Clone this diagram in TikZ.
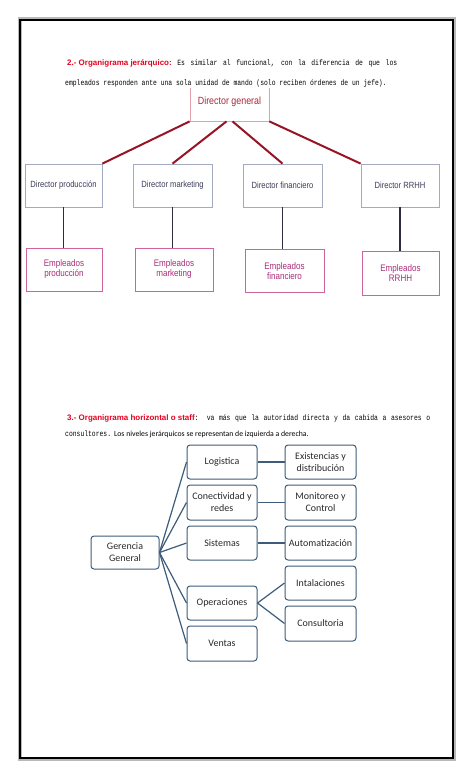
\documentclass[tikz,border=0pt]{standalone}
\usepackage{fontspec}
\setmainfont{Carlito}
\newfontfamily\monofont[FakeStretch=0.8]{Liberation Mono}
\newfontfamily\headfont{Liberation Sans}
\newfontfamily\chartfont[FakeStretch=0.85]{Liberation Sans}
\definecolor{headred}{RGB}{230, 0, 30}
\definecolor{dirgray}{RGB}{165, 170, 192}
\definecolor{dirtext}{RGB}{60, 60, 90}
\definecolor{dgpink}{RGB}{228, 160, 170}
\definecolor{dgtext}{RGB}{165, 40, 60}
\definecolor{linered}{RGB}{150, 20, 35}
\definecolor{emppink}{RGB}{205, 100, 155}
\definecolor{emptext}{RGB}{170, 45, 120}
\definecolor{navyline}{RGB}{45, 45, 65}
\definecolor{staffblue}{RGB}{60, 92, 122}
\definecolor{stafftext}{RGB}{40, 40, 40}
\usetikzlibrary{positioning}
\tikzset{
  dirbox/.style={draw=dirgray, line width=0.8bp, minimum width=78bp, minimum height=43bp, inner sep=1bp, align=center, text=dirtext, font=\chartfont\fontsize{9}{10.5}\selectfont},
  empbox/.style={draw=emppink, line width=0.8bp, minimum width=77bp, minimum height=43bp, inner sep=1bp, align=center, text=emptext, font=\chartfont\fontsize{9.5}{10}\selectfont},
  unitbox/.style={draw=staffblue, line width=1bp, rounded corners=3bp, minimum width=70bp, minimum height=34bp, inner sep=1bp, align=center, text=stafftext, font=\fontsize{10}{12}\selectfont},
  redlink/.style={draw=linered, line width=2bp},
  navylink/.style={draw=navyline, line width=1.5bp},
  stafflink/.style={draw=staffblue, line width=1.2bp}
}

\begin{document}
\begin{tikzpicture}[x=1bp, y=-1bp]
  \useasboundingbox (0,0) rectangle (474,780);
  \draw[gray!55, line width=4bp] (19.5,19.5) rectangle (453.5,758.5);
  \draw[black, line width=2.2bp] (20,20) rectangle (453,758);

  \node[draw=dgpink, line width=0.8bp, minimum width=79bp, minimum height=38bp, inner sep=1bp, text=dgtext, font=\chartfont\fontsize{10.5}{12}\selectfont] (dg) at (229.5,102) {Director general};

  \node[anchor=base west, inner sep=0] (intro2a) at (67,66) {\makebox[330bp][s]{\mbox{\headfont\bfseries\fontsize{8}{9}\selectfont\color{headred}2.- Organigrama jer\'arquico:}\spaceskip=2.4bp plus 6bp\relax{} \monofont\fontsize{8}{9}\selectfont Es similar al funcional, con la diferencia de que los}};
  \node[anchor=base west, inner sep=0, fill=white, inner ysep=1.5bp] (intro2b) at (65,85) {\monofont\fontsize{8}{9}\selectfont empleados responden ante una sola unidad de mando (solo reciben \'ordenes de un jefe).};

  \node[dirbox, minimum width=77bp] (prod) at (63.5,185.5) {Director producci\'on};
  \node[dirbox, minimum width=79bp] (mkt) at (172.5,185.5) {Director marketing};
  \node[dirbox, minimum width=79bp] (fin) at (282.5,185.5) {Director financiero};
  \node[dirbox] (rrhh) at (400,185.5) {Director RRHH};

  \node[empbox, minimum width=76bp] (eprod) at (64,269.5) {Empleados\\producci\'on};
  \node[empbox, minimum width=78bp] (emkt) at (174,269.5) {Empleados\\marketing};
  \node[empbox, minimum width=79bp] (efin) at (284.5,271) {Empleados\\financiero};
  \node[empbox, minimum height=44bp] (errhh) at (400.5,273) {Empleados\\RRHH};

  \draw[redlink] (dg.south west) -- (prod.north east);
  \draw[redlink] ([xshift=-3bp]dg.south) -- (mkt.north);
  \draw[redlink] ([xshift=3bp]dg.south) -- (fin.north);
  \draw[redlink] (dg.south east) -- (rrhh.north west);

  \draw[navylink] (prod.south) -- (prod.south |- eprod.north);
  \draw[navylink] (mkt.south) -- (mkt.south |- emkt.north);
  \draw[navylink] (fin.south) -- (fin.south |- efin.north);
  \draw[navylink] (rrhh.south) -- (rrhh.south |- errhh.north);

  \node[anchor=base west, inner sep=0] (intro3a) at (67,420) {\makebox[363bp][s]{\mbox{\headfont\bfseries\fontsize{8}{9}\selectfont\color{headred}3.- Organigrama horizontal o staff}\spaceskip=2.4bp plus 6bp\relax\monofont\fontsize{8}{9}\selectfont: va m\'as que la autoridad directa y da cabida a asesores o}};
  \node[anchor=base west, inner sep=0] (intro3b) at (65,436) {{\monofont\fontsize{8}{9}\selectfont consultores.} \fontsize{7.8}{9}\selectfont Los niveles jer\'arquicos se representan de izquierda a derecha.};

  \node[unitbox, minimum width=68bp, minimum height=33bp] (gg) at (125,552.5) {Gerencia\\General};

  \node[unitbox] (log) at (222,462) {Logistica};
  \node[unitbox, minimum height=35bp] (con) at (222,502.5) {Conectividad y\\redes};
  \node[unitbox] (sis) at (222,543) {Sistemas};
  \node[unitbox] (ope) at (222,603) {Operaciones};
  \node[unitbox, minimum height=35bp] (ven) at (222,643.5) {Ventas};

  \node[unitbox, minimum width=71bp] (exi) at (320.5,462) {Existencias y\\distribuci\'on};
  \node[unitbox, minimum width=71bp, minimum height=35bp] (mon) at (320.5,502.5) {Monitoreo y\\Control};
  \node[unitbox, minimum width=71bp] (aut) at (320.5,543) {Automatizaci\'on};
  \node[unitbox, minimum width=71bp] (ins) at (320.5,583) {Intalaciones};
  \node[unitbox, minimum width=71bp, minimum height=35bp] (cons) at (320.5,623.5) {Consultoria};

  \foreach \unit in {log, con, sis, ope, ven}
    \draw[stafflink] (gg.east) -- (\unit.west);
  \draw[stafflink] (log.east) -- (exi.west);
  \draw[stafflink] (con.east) -- (mon.west);
  \draw[stafflink] (sis.east) -- (aut.west);
  \draw[stafflink] (ope.east) -- (ins.west);
  \draw[stafflink] (ope.east) -- (cons.west);
\end{tikzpicture}
\end{document}
